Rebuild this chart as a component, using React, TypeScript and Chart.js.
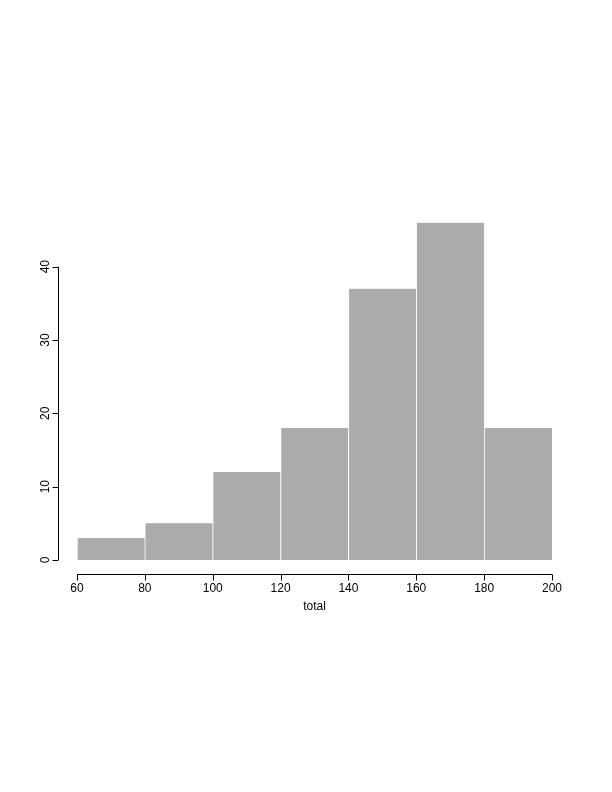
import React, { useEffect, useRef } from "react";
import { Chart, registerables } from "chart.js";

Chart.register(...registerables);

const binStarts = [60, 80, 100, 120, 140, 160, 180];
const binWidth = 20;
const counts = [3, 5, 12, 18, 37, 46, 18];
const xTicks = [60, 80, 100, 120, 140, 160, 180, 200];
const yTicks = [0, 10, 20, 30, 40];
const xLabel = "total";

const FONT = "12px 'Liberation Sans', Arial, Helvetica, sans-serif";

const rAxesPlugin = {
  id: "rAxes",
  afterDraw(chart: any) {
    const ctx = chart.ctx as CanvasRenderingContext2D;
    const xs = chart.scales.x;
    const ys = chart.scales.y;
    const y0 = ys.getPixelForValue(0);
    ctx.save();
    ctx.strokeStyle = "#000";
    ctx.fillStyle = "#000";
    ctx.lineWidth = 1;
    ctx.font = FONT;

    // x axis
    const axY = Math.round(y0 + 14) + 0.5;
    const xa = xs.getPixelForValue(xTicks[0]);
    const xb = xs.getPixelForValue(xTicks[xTicks.length - 1]);
    ctx.beginPath();
    ctx.moveTo(xa, axY);
    ctx.lineTo(xb, axY);
    for (const t of xTicks) {
      const px = Math.round(xs.getPixelForValue(t)) + 0.5;
      ctx.moveTo(px, axY);
      ctx.lineTo(px, axY + 6);
    }
    ctx.stroke();
    ctx.textAlign = "center";
    ctx.textBaseline = "middle";
    for (const t of xTicks) {
      ctx.fillText(String(t), xs.getPixelForValue(t), axY + 14);
    }
    ctx.fillText(xLabel, (xa + xb) / 2, axY + 32);

    // y axis
    const axX = Math.round(xs.getPixelForValue(60) - 19) + 0.5;
    const ya = ys.getPixelForValue(yTicks[0]);
    const yb = ys.getPixelForValue(yTicks[yTicks.length - 1]);
    ctx.beginPath();
    ctx.moveTo(axX, ya);
    ctx.lineTo(axX, yb);
    for (const t of yTicks) {
      const py = Math.round(ys.getPixelForValue(t)) + 0.5;
      ctx.moveTo(axX, py);
      ctx.lineTo(axX - 6, py);
    }
    ctx.stroke();
    for (const t of yTicks) {
      ctx.save();
      ctx.translate(axX - 13, ys.getPixelForValue(t));
      ctx.rotate(-Math.PI / 2);
      ctx.fillText(String(t), 0, 0);
      ctx.restore();
    }
    ctx.restore();
  },
};

export default function App() {
  const ref = useRef<HTMLCanvasElement>(null);
  useEffect(() => {
    if (!ref.current) return;
    const chart = new Chart(ref.current, {
      type: "bar",
      data: {
        datasets: [
          {
            data: binStarts.map((s, i) => ({ x: s + binWidth / 2, y: counts[i] })),
            backgroundColor: "#ababab",
            borderColor: "#ffffff",
            borderWidth: { top: 0, left: 1, right: 0, bottom: 0 },
            borderSkipped: false,
            barPercentage: 1,
            categoryPercentage: 1,
          },
        ],
      },
      options: {
        animation: false,
        responsive: false,
        maintainAspectRatio: false,
        layout: { padding: { left: 77, right: 60, top: 208, bottom: 232 } },
        plugins: { legend: { display: false }, tooltip: { enabled: false } },
        scales: {
          x: { type: "linear", min: 60, max: 200, display: false, offset: false },
          y: { min: 0, max: 48, display: false },
        },
      },
      plugins: [rAxesPlugin],
    });
    return () => chart.destroy();
  }, []);
  return (
    <div style={{ position: "fixed", left: 0, top: 0, width: 612, height: 792, background: "#fff" }}>
      <canvas ref={ref} width={612} height={792} style={{ width: 612, height: 792 }} />
    </div>
  );
}
